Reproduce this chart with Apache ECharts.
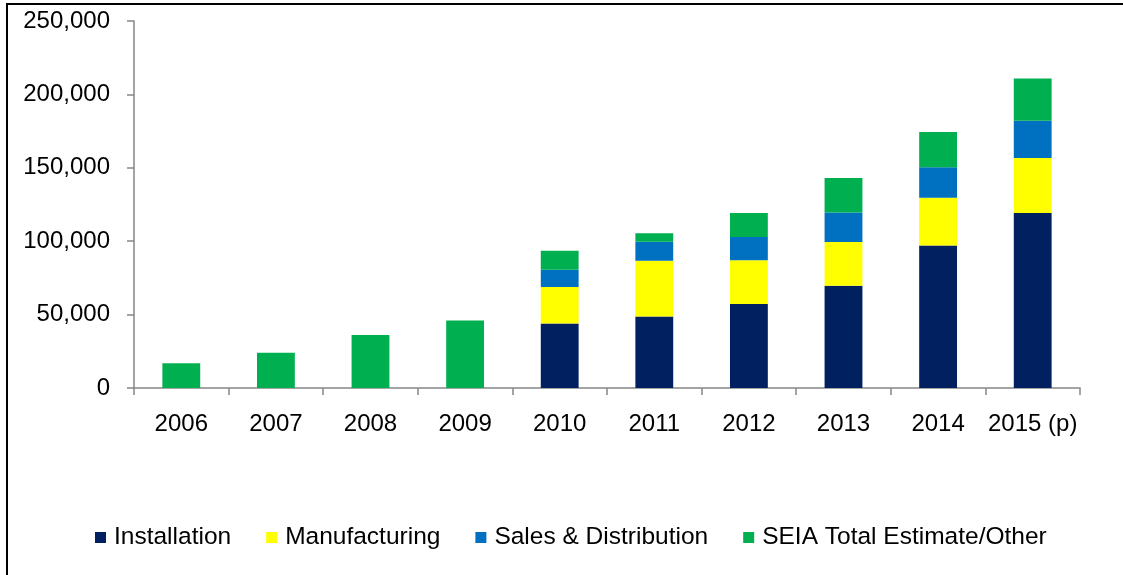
<!DOCTYPE html>
<html>
<head>
<meta charset="utf-8">
<script src="https://cdn.jsdelivr.net/npm/echarts@6/dist/echarts.min.js"></script>
<style>
  html, body { margin: 0; padding: 0; background: #fff; }
  #main { width: 1123px; height: 575px; }
</style>
</head>
<body>
<div id="main"></div>
<script>
// data
var years = ['2006', '2007', '2008', '2009', '2010', '2011', '2012', '2013', '2014', '2015 (p)'];
var installation = [null, null, null, null, 43900, 48700, 57200, 69600, 97100, 119200];
var manufacturing = [null, null, null, null, 24900, 38000, 29900, 29900, 32500, 37500];
var salesDist = [null, null, null, null, 11700, 12900, 15700, 20100, 20700, 25400];
var seiaOther = [16800, 24000, 36100, 45900, 13000, 5800, 16400, 23500, 24100, 28700];

var myChart = echarts.init(document.getElementById('main'));
var font = 'Liberation Sans';

function bar(name, data, color) {
    return {
        name: name,
        type: 'bar',
        stack: 'jobs',
        barWidth: '40%',
        data: data,
        itemStyle: { color: color },
        emphasis: { disabled: true }
    };
}

var option = {
    animation: false,
    backgroundColor: '#fff',
    grid: {
        left: 134,
        right: 43,
        top: 21,
        bottom: 187,
        containLabel: false
    },
    legend: {
        bottom: 20,
        left: 90,
        itemWidth: 11,
        itemHeight: 11,
        itemGap: 35,
        icon: 'rect',
        textStyle: { fontFamily: font, fontSize: 24.5, color: '#000', padding: [0, 0, 0, 3] },
        data: ['Installation', 'Manufacturing', 'Sales & Distribution', 'SEIA Total Estimate/Other']
    },
    xAxis: {
        type: 'category',
        data: years,
        axisLine: { lineStyle: { color: '#868686', width: 1.5 } },
        axisTick: { show: true, length: 7, lineStyle: { color: '#868686', width: 1.5 } },
        axisLabel: { fontFamily: font, fontSize: 24, color: '#000', margin: 24, interval: 0 }
    },
    yAxis: {
        type: 'value',
        min: 0,
        max: 250000,
        interval: 50000,
        splitLine: { show: false },
        axisLine: { show: true, lineStyle: { color: '#868686', width: 1.5 } },
        axisTick: { show: true, length: 7, lineStyle: { color: '#868686', width: 1.5 } },
        axisLabel: {
            fontFamily: font, fontSize: 24, color: '#000', margin: 24,
            formatter: function (v) { return v.toLocaleString('en-US'); }
        }
    },
    graphic: [
        { type: 'line', shape: { x1: 6, y1: 4, x2: 1123, y2: 4 }, style: { stroke: '#000', lineWidth: 2 } },
        { type: 'line', shape: { x1: 7, y1: 4, x2: 7, y2: 575 }, style: { stroke: '#000', lineWidth: 2 } }
    ],
    series: [
        bar('Installation', installation, '#002060'),
        bar('Manufacturing', manufacturing, '#FFFF00'),
        bar('Sales & Distribution', salesDist, '#0070C0'),
        bar('SEIA Total Estimate/Other', seiaOther, '#00B050')
    ]
};

myChart.setOption(option);
window.onresize = function () { myChart.resize(); };
</script>
</body>
</html>
